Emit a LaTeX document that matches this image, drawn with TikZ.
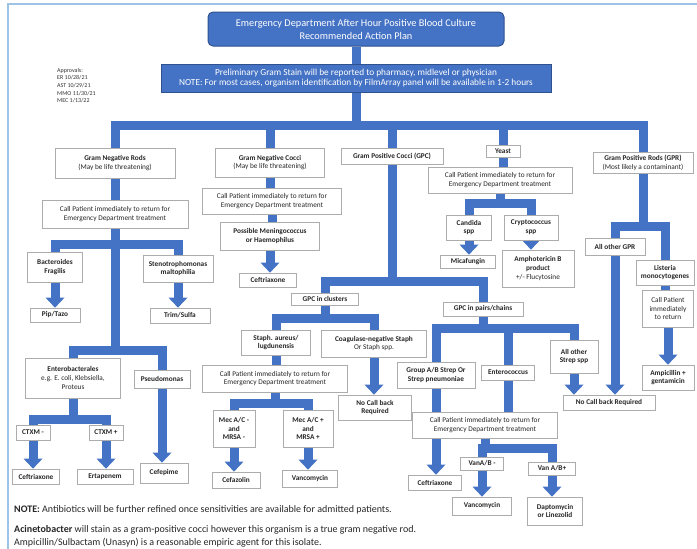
\documentclass[tikz,border=0pt]{standalone}
\usepackage{fontspec}
\setmainfont{Carlito}
\usetikzlibrary{arrows.meta}
\definecolor{cblue}{HTML}{4472C4}
\definecolor{cdark}{HTML}{2F528F}
\definecolor{cframe}{HTML}{9DC3E6}
\pgfdeclarelayer{bg}
\pgfsetlayers{bg,main}
\tikzset{
  bx/.style={draw=gray!65, line width=0.7pt, fill=white, inner sep=1pt, align=center,
    font=\fontsize{7.3}{8.8}\selectfont, text=black!85},
  bxb/.style={bx, font=\fontsize{7.3}{8.8}\selectfont\bfseries},
  ttl/.style={draw=cdark, line width=1pt, fill=cblue, rounded corners=5pt, text=white,
    align=center, font=\fontsize{10.3}{13}\selectfont},
  prel/.style={draw=cdark, line width=0.8pt, fill=cblue, text=white, align=center,
    font=\fontsize{9.3}{10.5}\selectfont},
  conn/.style={draw=cblue, line width=9pt},
  arr/.style={conn, -{Triangle[width=19pt,length=10pt,line width=0pt]}},
  note/.style={anchor=west, inner sep=0pt, font=\fontsize{10}{11}\selectfont, text=black!85}
}
\newcommand{\forkto}[4]{%
  \path (0,#2) coordinate (fy);
  \draw[conn] (#1.south) -- (#1.south |- fy);
  \draw[conn,line cap=rect] (#3.north |- fy) -- (#4.north |- fy);
  \draw[conn] (#3.north |- fy) -- (#3.north);
  \draw[conn] (#4.north |- fy) -- (#4.north);
}
\begin{document}
\begin{tikzpicture}[x=1pt,y=-1pt]
\useasboundingbox (0,0) rectangle (697,549);
\draw[cframe, line width=1.5pt] (8,549) -- (8,4) -- (697,4);

% header
\node[ttl, minimum width=296pt, minimum height=34pt] (title) at (356,29)
  {Emergency Department After Hour Positive Blood Culture\\Recommended Action Plan};
\node[prel, minimum width=390pt, minimum height=28pt] (prelim) at (356,78)
  {Preliminary Gram Stain will be reported to pharmacy, midlevel or physician\\NOTE: For most cases, organism identification by FilmArray panel will be available in 1-2 hours};
\node[anchor=north west, inner sep=0pt, align=left, font=\fontsize{6}{7.6}\selectfont, text=black!80] (appr) at (57,68)
  {Approvals:\\ER 10/28/21\\AST 10/29/21\\MMO 11/30/21\\MEC 1/13/22};

% column 1: gram negative rods
\node[bx, minimum width=120pt, minimum height=30pt] (gnr) at (115,163) {\textbf{Gram Negative Rods}\\(May be life threatening)};
\node[bx, minimum width=146pt, minimum height=28pt] (call1) at (115,214) {Call Patient immediately to return for\\Emergency Department treatment};
\node[bxb, minimum width=55pt, minimum height=30pt] (bact) at (55,267) {Bacteroides\\Fragilis};
\node[bxb, minimum width=70pt, minimum height=27pt] (steno) at (178,268.5) {Stenotrophomonas\\maltophilia};
\node[bxb, minimum width=50pt, minimum height=14pt] (piptazo) at (55,315) {Pip/Tazo};
\node[bxb, minimum width=60pt, minimum height=15pt] (trim) at (180,315.5) {Trim/Sulfa};
\node[bx, minimum width=95pt, minimum height=40pt] (entero) at (73,378) {\textbf{Enterobacterales}\\e.g. E. coli, Klebsiella,\\Proteus};
\node[bxb, minimum width=56pt, minimum height=18pt] (pseudo) at (162,379) {Pseudomonas};
\node[bxb, minimum width=34pt, minimum height=15pt] (ctxmn) at (33,432.5) {CTXM -};
\node[bxb, minimum width=34pt, minimum height=15pt] (ctxmp) at (106,432.5) {CTXM +};
\node[bxb, minimum width=47pt, minimum height=15pt] (ceftri1) at (36,476.5) {Ceftriaxone};
\node[bxb, minimum width=56pt, minimum height=15pt] (erta) at (105,476.5) {Ertapenem};
\node[bxb, minimum width=48pt, minimum height=20pt] (cefep) at (164,473) {Cefepime};

% column 2: gram negative cocci
\node[bx, minimum width=109pt, minimum height=29pt] (gnc) at (270,162.5) {\textbf{Gram Negative Cocci}\\(May be life threatening)};
\node[bx, minimum width=139pt, minimum height=26pt] (call2) at (272,201) {Call Patient immediately to return for\\Emergency Department treatment};
\node[bxb, minimum width=99pt, minimum height=28pt] (mening) at (270,236) {Possible Meningococcus\\or Haemophilus};
\node[bxb, minimum width=57pt, minimum height=14pt] (ceftri2) at (268,280) {Ceftriaxone};

% column 3: gram positive cocci
\node[bxb, minimum width=102pt, minimum height=16pt] (gpc) at (392,156) {Gram Positive Cocci (GPC)};
\node[bxb, minimum width=67pt, minimum height=12pt] (gpcclus) at (325,299) {GPC in clusters};
\node[bxb, minimum width=80pt, minimum height=14pt] (gpcpair) at (483,309) {GPC in pairs/chains};
\node[bxb, minimum width=69pt, minimum height=25pt] (saureus) at (276,342.5) {Staph. aureus/\\lugdunensis};
\node[bx, minimum width=105pt, minimum height=27pt] (coag) at (374,343.5) {\textbf{Coagulase-negative Staph}\\Or Staph spp.};
\node[bx, minimum width=145pt, minimum height=27pt] (call3) at (275,378.5) {Call Patient immediately to return for\\Emergency Department treatment};
\node[bxb, minimum width=42pt, minimum height=37pt] (mecan) at (234,428.5) {Mec A/C -\\and\\MRSA -};
\node[bxb, minimum width=50pt, minimum height=37pt] (mecap) at (308,428.5) {Mec A/C +\\and\\MRSA +};
\node[bxb, minimum width=48pt, minimum height=16pt] (cefaz) at (236,480) {Cefazolin};
\node[bxb, minimum width=55pt, minimum height=17pt] (vanco1) at (310,478.5) {Vancomycin};
\node[bxb, minimum width=73pt, minimum height=25pt] (nocall1) at (375,407.5) {No Call back\\Required};
\node[bxb, minimum width=78pt, minimum height=26pt] (group) at (436,375) {Group A/B Strep Or\\Strep pneumoniae};
\node[bxb, minimum width=53pt, minimum height=15pt] (enteroc) at (508,372.5) {Enterococcus};
\node[bxb, minimum width=48pt, minimum height=33pt] (allstrep) at (574,356.5) {All other\\Strep spp};
\node[bx, minimum width=145pt, minimum height=26pt] (call4) at (485,425) {Call Patient immediately to return for\\Emergency Department treatment};
\node[bxb, minimum width=53pt, minimum height=15pt] (ceftri3) at (435,482.5) {Ceftriaxone};
\node[bxb, minimum width=43pt, minimum height=13pt] (vann) at (482,463.5) {VanA/B -};
\node[bxb, minimum width=47pt, minimum height=13pt] (vanp) at (552,468.5) {Van A/B+};
\node[bxb, minimum width=59pt, minimum height=18pt] (vanco2) at (482,506) {Vancomycin};
\node[bxb, minimum width=55pt, minimum height=28pt] (dapto) at (555,511) {Daptomycin\\or Linezolid};
\node[bxb, minimum width=92pt, minimum height=15pt] (nocall2) at (609,402.5) {No Call back Required};

% column 4: yeast
\node[bxb, minimum width=34pt, minimum height=12pt] (yeast) at (503,151) {Yeast};
\node[bx, minimum width=144pt, minimum height=26pt] (call5) at (500,180) {Call Patient immediately to return for\\Emergency Department treatment};
\node[bxb, minimum width=45pt, minimum height=25pt] (candida) at (469,227.5) {Candida\\spp};
\node[bxb, minimum width=54pt, minimum height=25pt] (crypto) at (531,227.5) {Cryptococcus\\spp};
\node[bxb, minimum width=55pt, minimum height=13pt] (micaf) at (468,261.5) {Micafungin};
\node[bx, minimum width=72pt, minimum height=37pt] (ampho) at (538,268.5) {\textbf{Amphotericin B}\\\textbf{product}\\+/- Flucytosine};

% column 5: gram positive rods
\node[bx, minimum width=100pt, minimum height=21pt] (gpr) at (643,162.5) {\textbf{Gram Positive Rods (GPR)}\\(Most likely a contaminant)};
\node[bxb, minimum width=60pt, minimum height=17pt] (allgpr) at (615,246.5) {All other GPR};
\node[bxb, minimum width=58pt, minimum height=25pt] (listeria) at (665,272.5) {Listeria\\monocytogenes};
\node[bx, minimum width=51pt, minimum height=37pt] (call6) at (668,308.5) {Call Patient\\immediately\\to return};
\node[bxb, minimum width=52pt, minimum height=25pt] (ampgent) at (668,377.5) {Ampicillin +\\gentamicin};

% notes
\node[note] (n1) at (14,510) {\textbf{NOTE:} Antibiotics will be further refined once sensitivities are available for admitted patients.};
\node[note] (n2) at (14,530) {\textbf{Acinetobacter} will stain as a gram-positive cocci however this organism is a true gram negative rod.};
\node[note] (n3) at (14,543) {Ampicillin/Sulbactam (Unasyn) is a reasonable empiric agent for this isolate.};

\begin{pgfonlayer}{bg}
  \draw[conn] (title.south) -- (title.south |- prelim.north);
  \forkto{prelim}{125}{gnr}{gpr}
  \draw[conn] (gnc.north |- fy) -- (gnc.north);
  \draw[conn] (gpc.north |- fy) -- (gpc.north);
  \draw[conn] (yeast.north |- fy) -- (yeast.north);
  % col 1
  \draw[conn] (gnr.south) -- (gnr.south |- call1.north);
  \forkto{call1}{244}{bact}{steno}
  \forkto{call1}{350}{entero}{pseudo}
  \draw[arr] (bact.south) -- (bact.south |- piptazo.north);
  \draw[arr] (steno.south) -- (steno.south |- trim.north);
  \forkto{entero}{419}{ctxmn}{ctxmp}
  \draw[arr] (ctxmn.south) -- (ctxmn.south |- ceftri1.north);
  \draw[arr] (ctxmp.south) -- (ctxmp.south |- erta.north);
  \draw[arr] (pseudo.south) -- (pseudo.south |- cefep.north);
  % col 2
  \draw[conn] (gnc.south) -- (gnc.south |- call2.north);
  \draw[conn] (call2.south) -- (call2.south |- mening.north);
  \draw[arr] (mening.south) -- (mening.south |- ceftri2.north);
  % col 3
  \forkto{gpc}{281}{gpcclus}{gpcpair}
  \forkto{gpcclus}{318}{saureus}{coag}
  \draw[conn] (saureus.south) -- (saureus.south |- call3.north);
  \forkto{call3}{403}{mecan}{mecap}
  \draw[arr] (mecan.south) -- (mecan.south |- cefaz.north);
  \draw[arr] (mecap.south) -- (mecap.south |- vanco1.north);
  \draw[arr] (coag.south) -- (coag.south |- nocall1.north);
  \forkto{gpcpair}{328}{group}{allstrep}
  \draw[conn] (enteroc.north |- fy) -- (enteroc.north);
  \draw[arr] (group.south) -- (group.south |- ceftri3.north);
  \draw[conn] (enteroc.south) -- (enteroc.south |- call4.north);
  \forkto{call4}{448}{vann}{vanp}
  \draw[arr] (vann.south) -- (vann.south |- vanco2.north);
  \draw[arr] (vanp.south) -- (vanp.south |- dapto.north);
  \draw[arr] (allstrep.south) -- (allstrep.south |- nocall2.north);
  % col 4
  \draw[conn] (yeast.south) -- (yeast.south |- call5.north);
  \forkto{call5}{203}{candida}{crypto}
  \draw[arr] (candida.south) -- (candida.south |- micaf.north);
  \draw[arr] (crypto.south) -- (crypto.south |- ampho.north);
  % col 5
  \forkto{gpr}{226}{allgpr}{listeria}
  \draw[arr] (allgpr.south) -- (allgpr.south |- nocall2.north);
  \draw[conn] (listeria.south) -- (listeria.south |- call6.north);
  \draw[arr] (call6.south) -- (call6.south |- ampgent.north);
\end{pgfonlayer}
\end{tikzpicture}
\end{document}
